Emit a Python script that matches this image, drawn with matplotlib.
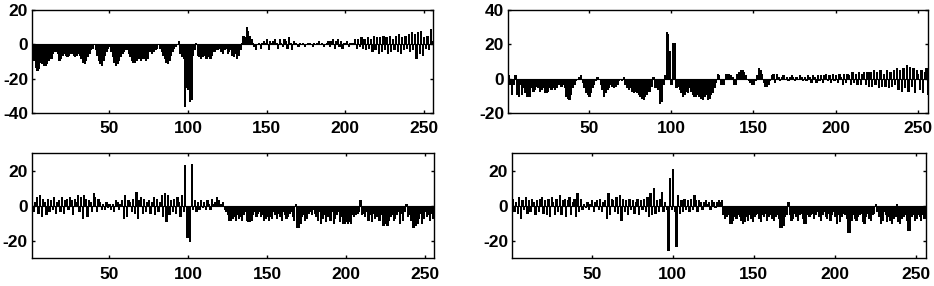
import numpy as np
import matplotlib.pyplot as plt

# sample index 1..256 shared by all four panels
n = np.arange(1, 257)

# top left panel
p1 = [-8, -9, -13, -15, -14, -10, -11, -12, -12, -11,
      -9, -8, -8, -5, -4, -4, -5, -9, -8, -6,
      -5, -6, -7, -6, -5, -5, -6, -7, -6, -5,
      -6, -8, -10, -11, -9, -7, -5, -3, -2, 0,
      -3, -6, -9, -11, -12, -9, -6, -4, -2, -1,
      -4, -7, -10, -12, -11, -9, -7, -5, -4, -3,
      -3, -5, -7, -9, -10, -10, -9, -8, -8, -9,
      -8, -8, -9, -8, -4, -4, -5, -4, -3, -2,
      0, -2, -4, -6, -8, -10, -11, -9, -6, -4,
      -2, -1, 0, 2, -5, -7, -8, -36, -25, -26,
      -33, -32, -6, -3, 1, -6, -7, -8, -7, -6,
      -8, -8, -7, -8, -6, -4, -4, -3, -3, -2,
      -4, -5, -3, -2, -5, -4, -3, -6, -7, -5,
      -8, -6, -3, 1, 5, 4, 10, 8, 5, 3,
      1, -1, -3, 0, 1, -2, 1, 2, 1, 3,
      -3, 2, 1, 2, 3, 1, -2, 3, 1, -1,
      3, 2, -2, 4, 1, -3, 2, 1, 0, -1,
      1, 0, 1, -1, 0, 1, 1, 0, -1, 1,
      0, 1, 2, 0, 1, -1, 0, 1, 2, -1,
      2, 3, -2, 2, 3, -1, 2, -2, 1, 1,
      2, -1, 1, 0, 1, 3, -2, 3, -1, 4,
      -2, 3, -3, 4, -2, 3, -4, 5, -3, 4,
      -5, 4, -4, 5, -3, 4, -5, 5, -4, 3,
      -3, 5, -4, 6, -5, 4, -3, 5, -2, 6,
      -4, 7, -3, 6, -8, 7, -5, 8, -6, 4,
      -2, 5, -3, 9, 2, -5]

# top right panel
p2 = [2, -3, -9, -3, 2, -9, -10, -3, -9, -5,
      -8, -10, -10, -10, -5, -7, -6, -4, -5, -7,
      -6, -5, -8, -8, -7, -5, -6, -5, -6, -5,
      -3, -3, -4, -3, -5, -10, -11, -12, -9, -5,
      -3, -1, 0, 1, 2, -2, -5, -8, -9, -10,
      -8, -5, -3, -1, 1, 0, -3, -6, -10, -8,
      -6, -5, -3, -4, -5, -4, -3, -1, 0, -1,
      1, -3, -5, -6, -5, -7, -8, -7, -8, -9,
      -10, -11, -12, -10, -9, -7, -7, -4, 1, -5,
      -5, -6, -14, -13, -3, 2, 27, 26, 16, -3,
      21, 21, -5, -4, -6, -8, -10, -9, -7, -8,
      -5, -7, -9, -10, -10, -9, -10, -11, -12, -10,
      -9, -12, -11, -9, -8, -5, -2, 3, 2, -3,
      -3, -3, 3, 3, 3, 2, 1, -3, -3, 3,
      4, 5, 5, 4, 2, 0, -1, -2, -3, -3,
      -1, 2, 6, 5, 3, -2, -4, -4, -3, -1,
      2, 3, -2, 3, 1, -1, 1, 2, 0, 1,
      -1, 1, 2, 1, -1, 1, 0, 2, 1, -1,
      1, -1, 2, 1, -2, 2, 1, -2, 2, -1,
      2, -2, 2, 3, -1, 2, -2, 3, -1, 2,
      -2, 3, 1, -3, 3, -2, 3, 2, -3, 4,
      -2, 3, -3, 4, -3, 3, 4, -3, 4, -4,
      4, -4, 5, -3, 4, -5, 5, -4, 3, -4,
      5, -5, 4, -4, 5, -3, 6, -6, 5, -7,
      6, -5, 8, -7, 7, -4, 6, -8, 5, 3,
      -6, 5, -8, 4, 6, -9]

# bottom left panel
p3 = [3, -3, 2, 5, -4, 6, -6, 4, 2, -5,
      4, -3, 3, -2, 5, -4, 2, 3, -3, 5,
      -4, 3, 4, -2, 5, 3, -5, 4, 2, 6,
      -3, 5, -7, 6, 4, -6, 3, 2, -3, 7,
      5, -3, 4, 2, -2, 1, -2, 2, -1, 1,
      -2, 1, -3, 3, 2, -2, 1, 3, -7, 6,
      -6, 3, 2, -3, 4, -4, 8, -7, 3, 5,
      -4, 4, -3, 2, 3, -4, 2, 5, -5, 4,
      -3, 2, 6, -6, 7, -9, 6, -5, 3, -3,
      4, -4, 5, 2, -6, 6, -3, 23, -18, -18,
      -20, 24, -2, 3, -3, 2, -2, 3, -1, 2,
      -2, 3, 1, -2, 4, 1, 2, 5, 3, 1,
      1, 2, -2, -3, -5, -8, -8, -7, -6, -8,
      -5, -7, -6, -8, -5, -3, -8, -9, -9, -8,
      -5, -3, -6, -4, -3, -6, -5, -8, -7, -6,
      -8, -6, -7, -3, -5, -7, -4, -6, -8, -3,
      -5, -7, -6, -4, -3, -6, -8, 1, -12, -12,
      -10, -6, -5, -8, -7, -4, -3, -5, -2, -4,
      -6, -8, -3, -10, -7, -5, -9, -6, -4, -8,
      -3, -10, -7, -5, -3, -9, -6, -10, -10, -9,
      -10, -9, -10, -5, -6, -5, -4, -3, 3, -5,
      -4, -6, -3, -8, -5, -9, -4, -7, -6, -3,
      -8, -5, -11, -11, -10, -11, -8, -6, -5, -8,
      -7, -5, -3, -10, -4, -8, -3, 1, -6, -5,
      -8, -12, -12, -11, -10, -7, -4, -10, -7, -3,
      -6, -5, -8, -4, -7, -5]

# bottom right panel
p4 = [4, -3, 2, -4, 5, -7, 3, -2, 5, -4,
      3, -3, 4, 2, -5, 3, -3, 4, 5, -4,
      3, -5, 4, -6, 5, 2, -5, 4, -3, 6,
      -5, 3, 4, -6, 3, 5, -5, 2, 4, -6,
      7, -3, 4, -2, 1, -1, 2, -2, 1, 3,
      -3, 2, 3, -2, 4, -3, 2, 3, -7, 7,
      -5, 4, 3, -3, 5, -4, 6, -8, 4, -3,
      3, -5, 4, -2, 3, -4, 2, 4, -5, 3,
      -2, 4, -3, 5, -6, 7, -5, 10, -4, 3,
      -3, 4, 8, -3, 2, -2, -25, 16, -2, 21,
      -3, -23, 6, -4, 3, -3, 4, -2, 3, -3,
      4, -2, 6, 3, -3, 3, 2, -2, 2, 3,
      1, 2, -2, 3, 2, -1, 2, 3, 2, 3,
      -5, -7, -6, -5, -10, -10, -8, -6, -7, -5,
      -6, -8, -10, -9, -6, -8, -5, -7, -9, -6,
      -5, -4, -7, -9, -5, -6, -4, -8, -6, -5,
      -7, -8, -6, -5, -7, -12, -12, -11, -6, -5,
      2, -5, -8, -7, -4, -6, -8, -5, -4, -7,
      -10, -10, -5, -6, -5, -4, -7, -5, -3, -6,
      -8, -5, -3, -6, -7, -4, -8, -5, -3, -6,
      -10, -5, -9, -6, -4, -5, -7, -15, -15, -8,
      -5, -7, -8, -6, -5, -4, -9, -10, -6, -4,
      -7, -8, -5, -4, 1, -3, -6, -10, -8, -3,
      -5, -9, -6, -8, -10, -7, -6, 1, -9, -10,
      -7, -6, -5, -8, -14, -14, -6, -5, -8, -7,
      -5, -6, -8, -5, -7, -6]

series = [p1, p2, p3, p4]
ylims = [(-40, 20), (-20, 40), (-30, 30), (-30, 30)]
yticks = [[-40, -20, 0, 20], [-20, 0, 20, 40], [-20, 0, 20], [-20, 0, 20]]
xticks = [50, 100, 150, 200, 250]

W, H = 934, 286
# axes boxes in pixels: left, right, top, bottom
boxes = [(32.3, 433.3, 10, 113), (508.3, 927.7, 10, 113),
         (31.7, 434.3, 153, 258.3), (512.3, 925.7, 153, 258.3)]

plt.rcParams['font.family'] = ['Liberation Sans', 'DejaVu Sans']
plt.rcParams['font.weight'] = 'bold'
plt.rcParams['axes.unicode_minus'] = False  # plain hyphen like the original

fig = plt.figure(figsize=(W / 100, H / 100), dpi=100, facecolor='white')

for vals, yl, yt, (l, r, t, b) in zip(series, ylims, yticks, boxes):
    ax = fig.add_axes([l / W, 1 - b / H, (r - l) / W, (b - t) / H])
    bars = ax.bar(n, vals, width=0.8, color='k', edgecolor='k', linewidth=0.5)
    for p in bars:
        p.set_antialiased(False)
    ax.axhline(0, color='k', linewidth=0.8)
    ax.set_xlim(1, 256)
    ax.set_ylim(*yl)
    ax.set_xticks(xticks)
    ax.set_yticks(yt)
    ax.tick_params(direction='in', length=2.5, width=1, top=True, right=True,
                   labelsize=12.5, pad=3)
    ax.tick_params(axis='x', pad=6)
    for s in ax.spines.values():
        s.set_linewidth(1)
    for lab in ax.get_xticklabels() + ax.get_yticklabels():
        lab.set_fontweight('bold')

fig.savefig('out.png', dpi=100, facecolor='white')
